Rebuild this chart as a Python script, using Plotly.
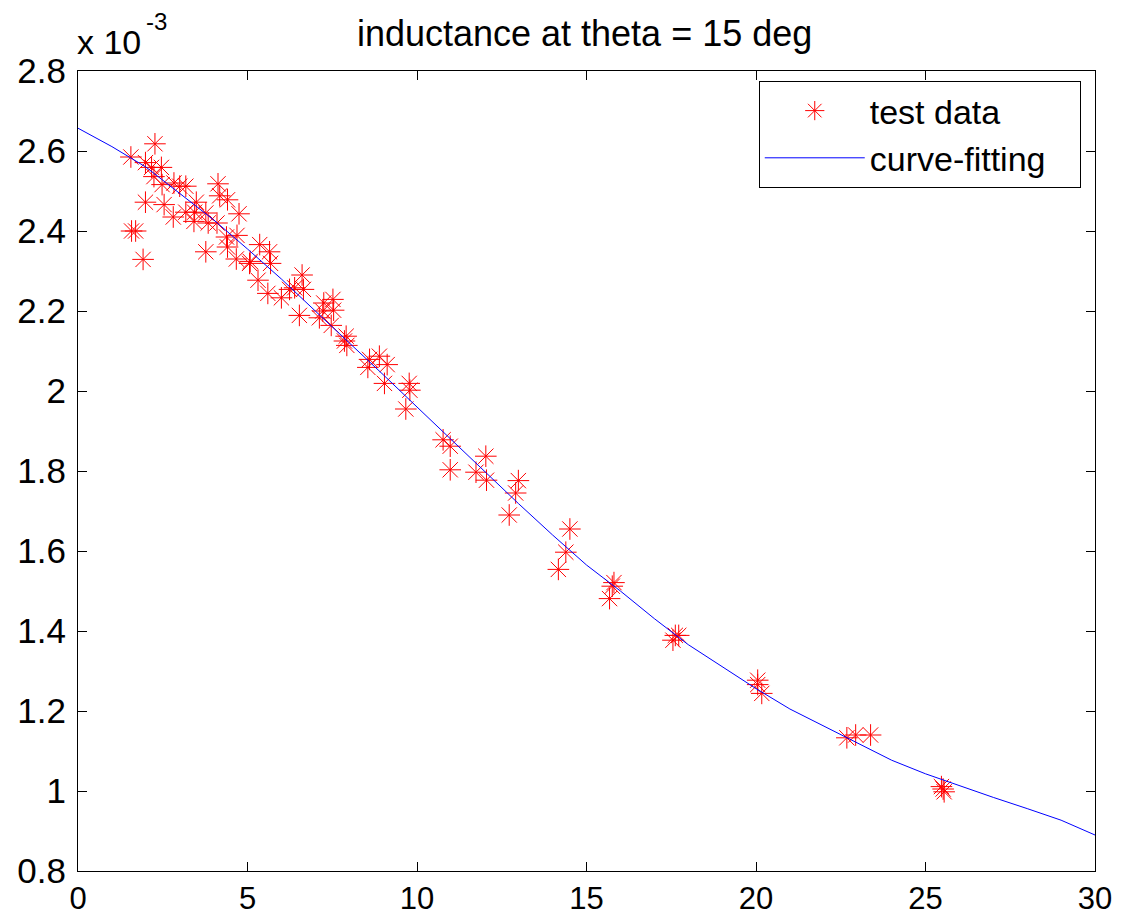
import plotly.graph_objects as go

# ---- data (inductance in units of 1e-3 H) ----
test_x = [2.27, 1.56, 1.99, 2.17, 2.46, 2.24, 2.48, 2.83, 3.00, 3.18,
          4.13, 4.18, 4.41, 3.49, 1.99, 2.54, 3.18, 3.44, 3.77, 4.75,
          2.81, 3.42, 3.84, 4.10, 1.58, 1.70, 4.38, 4.69, 4.41, 3.77,
          1.92, 4.67, 5.36, 5.65, 5.08, 5.06, 5.68, 5.31, 5.60, 6.00,
          6.24, 6.39, 6.65, 6.61, 7.12, 7.25, 7.52, 7.54, 7.22, 6.53,
          7.47, 7.91, 7.86, 7.93, 8.60, 8.89, 9.12, 8.55, 9.04, 9.77,
          9.79, 9.67, 10.77, 10.98, 12.03, 10.98, 11.74, 12.05, 12.99, 12.91,
          12.72, 14.51, 14.39, 14.17, 15.81, 15.76, 15.68, 17.62, 17.72, 17.55,
          20.05, 20.05, 20.17, 22.68, 22.94, 23.38, 25.47, 25.52, 25.55]
test_y = [2.618, 2.585, 2.571, 2.559, 2.559, 2.536, 2.516, 2.520, 2.512, 2.512,
          2.518, 2.488, 2.478, 2.472, 2.472, 2.466, 2.447, 2.447, 2.445, 2.443,
          2.435, 2.424, 2.420, 2.420, 2.400, 2.400, 2.385, 2.389, 2.360, 2.348,
          2.329, 2.330, 2.366, 2.348, 2.324, 2.319, 2.319, 2.277, 2.244, 2.233,
          2.254, 2.258, 2.254, 2.290, 2.183, 2.220, 2.229, 2.202, 2.200, 2.189,
          2.164, 2.137, 2.125, 2.114, 2.079, 2.087, 2.066, 2.059, 2.019, 2.019,
          2.002, 1.955, 1.878, 1.862, 1.837, 1.803, 1.797, 1.777, 1.776, 1.745,
          1.690, 1.655, 1.597, 1.554, 1.521, 1.512, 1.481, 1.389, 1.389, 1.377,
          1.277, 1.266, 1.244, 1.133, 1.140, 1.140, 1.011, 1.005, 0.998]

fit_x = list(range(0, 31))
fit_y = [2.657, 2.611, 2.560, 2.495, 2.428, 2.355, 2.280, 2.200, 2.121, 2.041,
         1.960, 1.879, 1.798, 1.718, 1.640, 1.565, 1.500, 1.431, 1.366, 1.310,
         1.256, 1.205, 1.162, 1.118, 1.077, 1.043, 1.013, 0.984, 0.956, 0.927,
         0.890]

x_ticks = [0, 5, 10, 15, 20, 25, 30]
y_ticks = [0.8, 1.0, 1.2, 1.4, 1.6, 1.8, 2.0, 2.2, 2.4, 2.6, 2.8]
y_tick_text = ["0.8", "1", "1.2", "1.4", "1.6", "1.8", "2", "2.2", "2.4", "2.6", "2.8"]

FONT = "Liberation Sans, Arial, sans-serif"

fig = go.Figure()
fig.add_trace(go.Scatter(
    x=test_x, y=test_y, mode="markers", name="test data\u00a0\u00a0\u00a0",
    marker=dict(symbol="asterisk-open", size=18, color="red",
                line=dict(color="red", width=1)),
))
fig.add_trace(go.Scatter(
    x=fit_x, y=fit_y, mode="lines", name="curve-fitting\u00a0\u00a0\u00a0",
    line=dict(color="blue", width=1),
))

axis_common = dict(
    showgrid=False, zeroline=False, showline=True, linecolor="black",
    linewidth=1, mirror="ticks", ticks="inside", ticklen=9,
    tickcolor="black", tickwidth=1, automargin=False,
)

fig.update_layout(
    width=1121, height=921,
    margin=dict(l=78, r=26, t=71, b=50),
    paper_bgcolor="white", plot_bgcolor="white",
    title=dict(text="inductance at theta = 15 deg", x=0.5215, xanchor="center",
               y=0.964, yanchor="middle", yref="container",
               font=dict(family=FONT, size=36, color="black")),
    xaxis=dict(range=[0, 30], tickvals=x_ticks, ticklabelstandoff=0,
               tickfont=dict(family=FONT, size=31, color="black"), **axis_common),
    yaxis=dict(range=[0.8, 2.8], tickvals=y_ticks, ticktext=y_tick_text,
               ticklabelstandoff=4,
               tickfont=dict(family=FONT, size=35, color="black"), **axis_common),
    showlegend=True,
    legend=dict(x=0.986, y=0.9875, xanchor="right", yanchor="top",
                bgcolor="white", bordercolor="black", borderwidth=1,
                font=dict(family=FONT, size=34, color="black"),
                itemwidth=100, tracegroupgap=0),
    annotations=[
        dict(text="x 10", xref="paper", yref="paper",
             x=0, y=1, xanchor="left", yanchor="bottom", showarrow=False,
             xshift=-3, yshift=8,
             font=dict(family=FONT, size=34, color="black")),
        dict(text="-3", xref="paper", yref="paper",
             x=0, y=1, xanchor="left", yanchor="bottom", showarrow=False,
             xshift=66, yshift=34,
             font=dict(family=FONT, size=24, color="black")),
    ],
)

fig.write_html("out.html")
